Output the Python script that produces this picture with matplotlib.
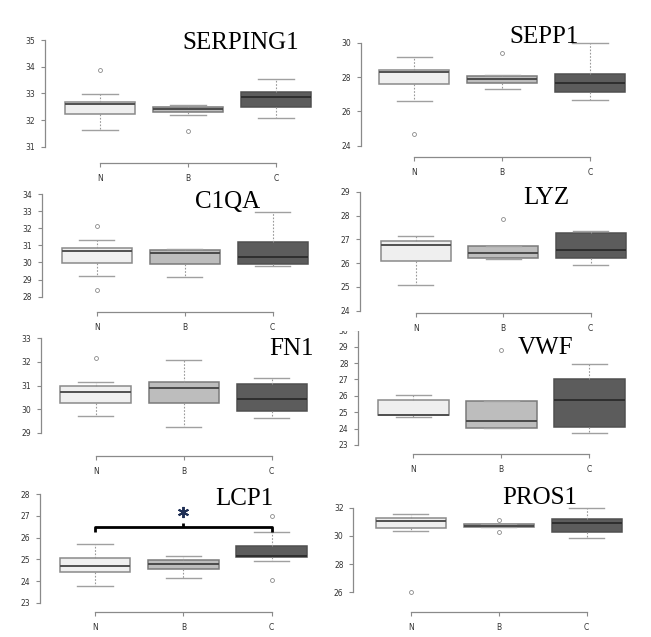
import matplotlib
matplotlib.use("Agg")
import matplotlib.pyplot as plt
from matplotlib.patches import Rectangle

# groups on the x axis
groups = ["N", "B", "C"]

# box summaries per gene: [whisker low, q1, median, q3, whisker high]
serping1 = [[31.62, 32.22, 32.60, 32.67, 32.97],
            [32.19, 32.29, 32.43, 32.50, 32.57],
            [32.07, 32.47, 32.88, 33.05, 33.52]]
serping1_out = [[33.86], [31.59], []]

sepp1 = [[26.60, 27.57, 28.29, 28.43, 29.18],
         [27.28, 27.65, 27.90, 28.08, 28.13],
         [26.68, 27.15, 27.63, 28.20, 30.00]]
sepp1_out = [[24.68], [29.42], []]

c1qa = [[29.21, 29.95, 30.65, 30.82, 31.29],
        [29.13, 29.91, 30.57, 30.73, 30.79],
        [29.77, 29.91, 30.34, 31.21, 32.97]]
c1qa_out = [[32.13, 28.37], [], []]

lyz = [[25.10, 26.09, 26.75, 26.94, 27.12],
       [26.17, 26.20, 26.41, 26.72, 26.72],
       [25.90, 26.23, 26.54, 27.26, 27.36]]
lyz_out = [[], [27.84], []]

fn1 = [[29.71, 30.24, 30.73, 31.00, 31.13],
       [29.26, 30.24, 30.89, 31.13, 32.07],
       [29.61, 29.93, 30.43, 31.07, 31.30]]
fn1_out = [[32.18], [], []]

vwf = [[24.69, 24.83, 24.85, 25.72, 26.05],
       [24.02, 24.02, 24.45, 25.66, 25.66],
       [23.73, 24.08, 25.77, 27.00, 27.92]]
vwf_out = [[], [28.80], []]

lcp1 = [[23.78, 24.40, 24.71, 25.08, 25.71],
        [24.15, 24.54, 24.80, 24.95, 25.14],
        [24.92, 25.09, 25.17, 25.62, 26.25]]
lcp1_out = [[], [], [27.02, 24.05]]

pros1 = [[30.35, 30.54, 31.06, 31.29, 31.53],
         [30.60, 30.65, 30.72, 30.82, 30.84],
         [29.87, 30.30, 30.89, 31.17, 32.00]]
pros1_out = [[26.0], [31.15, 30.25], []]

# significance bracket on LCP1 (N vs C)
lcp1_bracket_y = 26.50
lcp1_bracket_drop = 26.27
lcp1_bracket_tip = 26.66
lcp1_star_y = 27.17

fill_cols = ["#efefef", "#bdbdbd", "#5c5c5c"]
edge_cols = ["#8a8a8a", "#7a7a7a", "#505050"]
med_cols = ["#505050", "#4a4a4a", "#2e2e2e"]

W, H = 651, 637
fig = plt.figure(figsize=(W / 100, H / 100), dpi=100)

# layout of each panel in pixels:
# name, stats, outliers, y-axis x, x-axis y, y ticks, (v0, p0), (v1, p1), x of N, x of C, title centre, top, right
panels = [
    ("SERPING1", serping1, serping1_out, 45, 163.3, [31, 32, 33, 34, 35], (35, 40.0), (31, 146.7), 100, 276, (240.5, 43), 20, 318),
    ("SEPP1", sepp1, sepp1_out, 360.7, 156.7, [24, 26, 28, 30], (30, 42.7), (24, 145.7), 414.3, 590, (544.5, 37), 20, 645),
    ("C1QA", c1qa, c1qa_out, 41.7, 312.3, [28, 29, 30, 31, 32, 33, 34], (34, 194), (28, 296.7), 96.7, 272.7, (227.5, 202.5), 185, 318),
    ("LYZ", lyz, lyz_out, 360, 313.3, [24, 25, 26, 27, 28, 29], (29, 191.7), (24, 310.7), 415.7, 590.7, (546, 198), 185, 645),
    ("FN1", fn1, fn1_out, 41, 455.7, [29, 30, 31, 32, 33], (33, 338.3), (29, 432.7), 95.7, 271.7, (291.7, 349), 332, 318),
    ("VWF", vwf, vwf_out, 358.3, 454.3, [23, 24, 25, 26, 27, 28, 29, 30], (29, 346.7), (23, 445), 413.3, 589.3, (546, 348.5), 329, 645),
    ("LCP1", lcp1, lcp1_out, 40, 612.3, [23, 24, 25, 26, 27, 28], (28, 494.3), (23, 602.7), 95, 271.7, (244.7, 499), 480, 318),
    ("PROS1", pros1, pros1_out, 353.3, 611.7, [26, 28, 30, 32], (32, 507.7), (26, 592.3), 410.7, 586.7, (540, 498.5), 480, 645),
]

axes = {}
for (name, stats, outs, yax, xax, yticks, r0, r1, px1, px3, tpos, top, right) in panels:
    ax = fig.add_axes([yax / W, 1 - xax / H, (right - yax) / W, (xax - top) / H])
    ax.patch.set_alpha(0)
    # pixel -> data mapping
    scale = (r1[1] - r0[1]) / (r0[0] - r1[0])
    ylo = r0[0] - (xax - r0[1]) / scale
    yhi = r0[0] + (r0[1] - top) / scale
    ax.set_ylim(ylo, yhi)
    unit = (px3 - px1) / 2.0
    ax.set_xlim(1 - (px1 - yax) / unit, 1 + (right - px1) / unit)

    bstats = []
    for i, s in enumerate(stats):
        bstats.append(dict(whislo=s[0], q1=s[1], med=s[2], q3=s[3], whishi=s[4],
                           fliers=outs[i], label=groups[i]))
    res = ax.bxp(bstats, positions=[1, 2, 3], widths=0.8, patch_artist=True,
                 showfliers=True, capwidths=0.4)
    for i in range(3):
        res["boxes"][i].set_facecolor(fill_cols[i])
        res["boxes"][i].set_edgecolor(edge_cols[i])
        res["boxes"][i].set_linewidth(1.1)
        res["medians"][i].set_color(med_cols[i])
        res["medians"][i].set_linewidth(1.4)
    for w in res["whiskers"]:
        w.set_color("#999999")
        w.set_linestyle((0, (1.5, 1.5)))
        w.set_linewidth(0.8)
    for c in res["caps"]:
        c.set_color("#a0a0a0")
        c.set_linewidth(1.0)
    for f in res["fliers"]:
        f.set_marker("o")
        f.set_markersize(2.8)
        f.set_markerfacecolor("none")
        f.set_markeredgecolor("#888888")
        f.set_markeredgewidth(0.6)

    for sp in ["top", "right"]:
        ax.spines[sp].set_visible(False)
    ax.spines["left"].set_bounds(yticks[0], yticks[-1])
    ax.spines["bottom"].set_bounds(1, 3)
    for sp in ["left", "bottom"]:
        ax.spines[sp].set_color("#8a8a8a")
        ax.spines[sp].set_linewidth(0.9)
    ax.set_yticks(yticks)
    ax.set_xticks([1, 2, 3])
    ax.set_xticklabels(groups)
    ax.tick_params(axis="both", length=3, width=0.8, color="#8a8a8a",
                   labelsize=5.5, labelcolor="#333333", pad=4)
    ax.tick_params(axis="x", pad=5)

    fig.text(tpos[0] / W, 1 - tpos[1] / H, name, ha="center", va="center",
             fontsize=18, family="Liberation Serif", color="black")
    axes[name] = ax

# bracket and star on LCP1
ax = axes["LCP1"]
ax.plot([1, 1, 3, 3], [lcp1_bracket_drop, lcp1_bracket_y, lcp1_bracket_y, lcp1_bracket_drop],
        color="black", linewidth=2.0, solid_capstyle="butt", zorder=5)
ax.plot([2, 2], [lcp1_bracket_y, lcp1_bracket_tip], color="black", linewidth=2.0,
        solid_capstyle="butt", zorder=5)
ax.plot([2], [lcp1_star_y], marker=(6, 2, 0), markersize=8, markeredgewidth=1.4,
        color="#1f2f55", linestyle="none", zorder=6)

# top of the VWF axis is hidden under the panel above
fig.patches.append(Rectangle((328 / W, 1 - 331 / H), 32 / W, 12 / H,
                             transform=fig.transFigure, facecolor="white",
                             edgecolor="none", zorder=10))

fig.savefig("out.png", dpi=100)
